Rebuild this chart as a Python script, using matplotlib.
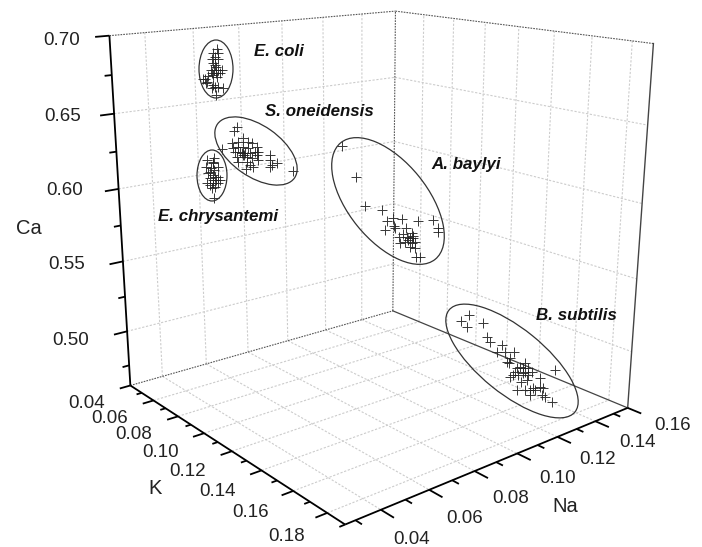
#!/usr/bin/env python3
"""Na / K / Ca ratios per species, 3D scatter with perspective box."""

import numpy as np
import matplotlib
matplotlib.use("Agg")
import matplotlib.pyplot as plt
from matplotlib.patches import Ellipse
from mpl_toolkits.mplot3d import proj3d

plt.rcParams["font.family"] = ["Liberation Sans", "DejaVu Sans"]

NA_LIM = (0.026, 0.158)
K_LIM = (0.04, 0.19)
CA_LIM = (0.46, 0.70)

NA_MAJOR = [0.04, 0.06, 0.08, 0.10, 0.12, 0.14, 0.158]
NA_MINOR = [0.03, 0.05, 0.07, 0.09, 0.11, 0.13, 0.15]
NA_LABELS = ["0.04", "0.06", "0.08", "0.10", "0.12", "0.14", "0.16"]
K_MAJOR = [0.04, 0.06, 0.08, 0.10, 0.12, 0.14, 0.16, 0.18]
K_MINOR = [0.05, 0.07, 0.09, 0.11, 0.13, 0.15, 0.17, 0.19]
K_LABELS = ["0.04", "0.06", "0.08", "0.10", "0.12", "0.14", "0.16", "0.18"]
CA_MAJOR = [0.50, 0.55, 0.60, 0.65, 0.70]
CA_MINOR = [0.475, 0.525, 0.575, 0.625, 0.675]
CA_LABELS = ["0.50", "0.55", "0.60", "0.65", "0.70"]

ECOLI_K = 0.08
ECOLI_NA = [0.0477, 0.0463, 0.0483, 0.0469, 0.0455, 0.0482, 0.0462, 0.0472, 0.0463, 0.0480,
            0.0494, 0.0453, 0.0471, 0.0487, 0.0460, 0.0440, 0.0426, 0.0419, 0.0432, 0.0465,
            0.0451, 0.0478, 0.0498, 0.0468, 0.0458, 0.0468, 0.0450, 0.0473, 0.0429]
ECOLI_CA = [0.6948, 0.6926, 0.6923, 0.6900, 0.6890, 0.6886, 0.6869, 0.6842, 0.6823, 0.6820,
            0.6818, 0.6809, 0.6806, 0.6803, 0.6793, 0.6790, 0.6772, 0.6773, 0.6757, 0.6720,
            0.6712, 0.6717, 0.6703, 0.6667, 0.6731, 0.6853, 0.6826, 0.6780, 0.6747]

ECHRY_K = 0.075
ECHRY_NA = [0.0478, 0.0472, 0.0448, 0.0495, 0.0444, 0.0460, 0.0476, 0.0452, 0.0473, 0.0493,
            0.0459, 0.0483, 0.0444, 0.0472, 0.0492, 0.0464, 0.0478, 0.0458, 0.0472, 0.0472,
            0.0463, 0.0479, 0.0469, 0.0500]
ECHRY_CA = [0.6249, 0.6228, 0.6246, 0.6190, 0.6203, 0.6167, 0.6173, 0.6158, 0.6141, 0.6125,
            0.6123, 0.6105, 0.6094, 0.6087, 0.6081, 0.6056, 0.6063, 0.6080, 0.5987, 0.6218,
            0.6187, 0.6128, 0.6109, 0.6101]

SONEI_K = 0.09
SONEI_NA = [0.0491, 0.0481, 0.0427, 0.0468, 0.0496, 0.0516, 0.0536, 0.0550, 0.0570, 0.0474,
            0.0495, 0.0515, 0.0536, 0.0563, 0.0481, 0.0501, 0.0521, 0.0542, 0.0570, 0.0577,
            0.0487, 0.0514, 0.0528, 0.0548, 0.0576, 0.0493, 0.0527, 0.0541, 0.0554, 0.0522,
            0.0626, 0.0625, 0.0625, 0.0632, 0.0654, 0.0725, 0.0508, 0.0518]
SONEI_CA = [0.6488, 0.6465, 0.6361, 0.6388, 0.6392, 0.6408, 0.6382, 0.6368, 0.6342, 0.6355,
            0.6361, 0.6356, 0.6340, 0.6312, 0.6333, 0.6328, 0.6312, 0.6307, 0.6289, 0.6308,
            0.6299, 0.6303, 0.6289, 0.6273, 0.6255, 0.6266, 0.6257, 0.6232, 0.6218, 0.6209,
            0.6275, 0.6242, 0.6199, 0.6208, 0.6218, 0.6144, 0.6315, 0.6302]

ABAYL_K = 0.12
ABAYL_NA = [0.0741, 0.0800, 0.0842, 0.0917, 0.0971, 0.0940, 0.1011, 0.1091, 0.1166, 0.0933,
            0.0975, 0.0980, 0.1191, 0.1192, 0.1032, 0.1020, 0.1060, 0.1001, 0.1036, 0.1052,
            0.1068, 0.1028, 0.1004, 0.1060, 0.1077, 0.1053, 0.1077, 0.1083, 0.1102, 0.1044,
            0.1065]
ABAYL_CA = [0.6386, 0.6172, 0.5977, 0.5925, 0.5857, 0.5845, 0.5835, 0.5796, 0.5779, 0.5787,
            0.5802, 0.5782, 0.5718, 0.5690, 0.5770, 0.5729, 0.5722, 0.5719, 0.5707, 0.5690,
            0.5685, 0.5676, 0.5672, 0.5653, 0.5659, 0.5633, 0.5613, 0.5553, 0.5546, 0.5682,
            0.5704]

BSUBT_K = 0.15
BSUBT_NA = [0.1274, 0.1249, 0.1293, 0.1343, 0.1321, 0.1304, 0.1317, 0.1404, 0.1396, 0.1377,
            0.1424, 0.1360, 0.1351, 0.1343, 0.1325, 0.1370, 0.1406, 0.1443, 0.1425, 0.1397,
            0.1492, 0.1386, 0.1417, 0.1576, 0.1494, 0.1364, 0.1411, 0.1438, 0.1467, 0.1457,
            0.1514, 0.1440, 0.1506, 0.1526, 0.1570, 0.1104, 0.1062, 0.1092, 0.1172, 0.1195,
            0.1213]
BSUBT_CA = [0.4987, 0.4950, 0.4930, 0.4907, 0.4869, 0.4853, 0.4835, 0.4794, 0.4761, 0.4782,
            0.4748, 0.4778, 0.4758, 0.4738, 0.4734, 0.4724, 0.4732, 0.4714, 0.4698, 0.4724,
            0.4640, 0.4667, 0.4664, 0.4662, 0.4577, 0.4617, 0.4594, 0.4579, 0.4565, 0.4583,
            0.4554, 0.4541, 0.4508, 0.4485, 0.4424, 0.5270, 0.5247, 0.5191, 0.5184, 0.5081,
            0.5033]

# box corners and ticks as seen in the picture, used to calibrate the camera
# (Na, K, Ca, px, py)
ANCHORS = [
    (NA_LIM[0], 0.04, 0.70, 111, 35), (NA_LIM[0], 0.04, CA_LIM[0], 130, 385),
    (NA_LIM[0], 0.19, CA_LIM[0], 347, 523), (NA_LIM[1], 0.19, CA_LIM[0], 628, 405),
    (NA_LIM[1], 0.04, CA_LIM[0], 393, 311), (NA_LIM[1], 0.04, 0.70, 396, 12),
    (NA_LIM[1], 0.19, 0.70, 653, 43),
    (NA_LIM[0], 0.04, 0.65, 113, 114), (NA_LIM[0], 0.04, 0.60, 117, 189),
    (NA_LIM[0], 0.06, CA_LIM[0], 153, 401), (NA_LIM[0], 0.10, CA_LIM[0], 205, 433),
    (NA_LIM[0], 0.14, CA_LIM[0], 263, 468), (NA_LIM[0], 0.18, CA_LIM[0], 330, 512),
    (0.14, 0.19, CA_LIM[0], 597, 422), (0.10, 0.19, CA_LIM[0], 515, 455),
    (0.06, 0.19, CA_LIM[0], 425, 492), (0.04, 0.19, CA_LIM[0], 380, 513),
]


def fit_camera():
    rows = []
    for na, k, ca, u, v in np.array(ANCHORS, float):
        rows.append([na, k, ca, 1, 0, 0, 0, 0, -u * na, -u * k, -u * ca, -u])
        rows.append([0, 0, 0, 0, na, k, ca, 1, -v * na, -v * k, -v * ca, -v])
    rows = np.array(rows)
    scale = np.abs(rows).max(axis=0)
    _, _, vt = np.linalg.svd(rows / scale)
    return (vt[-1] / scale).reshape(3, 4)


fig = plt.figure(figsize=(7.02, 5.47), dpi=100)
ax = fig.add_axes([0, (1 - 702 / 547) / 2, 1, 702 / 547], projection="3d", computed_zorder=False)
ax.set_axis_off()
ax.apply_aspect()
flip = np.array([[1, 0, 0], [0, -1, 547], [0, 0, 1.0]])
Q = ax.transData.inverted().get_matrix() @ flip @ fit_camera()
M = np.vstack([Q[0], Q[1], [0, 0, 1, 0], Q[2]])
ax.get_proj = lambda: M

GRID = dict(color="#cccccc", lw=0.8, ls=(0, (2, 1.5)), zorder=1)
EDGE = dict(color="#555555", lw=0.8, ls=(0, (1.5, 1)), zorder=2)
AXIS = dict(color="black", lw=1.3, zorder=3, solid_capstyle="butt")
POINT = dict(ls="none", marker="+", color="#222222", ms=7.5, mew=0.7, alpha=0.9, zorder=4)

na0, na1 = NA_LIM
k0, k1 = K_LIM
ca0, ca1 = CA_LIM

# walls and floor
for na in NA_MAJOR[:-1]:
    ax.plot([na, na], [k0, k0], [ca0, ca1], **GRID)
    ax.plot([na, na], [k0, k1], [ca0, ca0], **GRID)
for k in K_MAJOR[1:]:
    ax.plot([na1, na1], [k, k], [ca0, ca1], **GRID)
    ax.plot([na0, na1], [k, k], [ca0, ca0], **GRID)
for ca in CA_MAJOR[:-1]:
    ax.plot([na0, na1], [k0, k0], [ca, ca], **GRID)
    ax.plot([na1, na1], [k0, k1], [ca, ca], **GRID)

ax.plot([na0, na1], [k0, k0], [ca1, ca1], **EDGE)
ax.plot([na1, na1], [k0, k1], [ca1, ca1], **EDGE)
ax.plot([na1, na1], [k0, k0], [ca0, ca1], **EDGE)
ax.plot([na0, na1], [k0, k0], [ca0, ca0], **EDGE)
ax.plot([na1, na1], [k0, k1], [ca0, ca0], color="#444444", lw=0.9, zorder=2)
ax.plot([na1, na1], [k1, k1], [ca0, ca1], color="#444444", lw=1.0, zorder=2)

# axes and ticks
ax.plot([na0, na0], [k0, k0], [ca0, ca1], **AXIS)
ax.plot([na0, na0], [k0, k1], [ca0, ca0], **AXIS)
ax.plot([na0, na1], [k1, k1], [ca0, ca0], **AXIS)

for ticks, size in ((K_MAJOR, 0.0045), (K_MINOR, 0.0022)):
    for k in ticks:
        ax.plot([na0, na0 - size], [k, k], [ca0, ca0], **AXIS)
for ticks, size in ((NA_MAJOR, 0.007), (NA_MINOR, 0.0035)):
    for na in ticks:
        ax.plot([na, na], [k1, k1 + size], [ca0, ca0], **AXIS)
for ticks, size in ((CA_MAJOR, 0.0055), (CA_MINOR, 0.0028)):
    for ca in ticks:
        ax.plot([na0, na0 - size], [k0, k0], [ca, ca], **AXIS)


def tick_label(text, na, k, ca, dx, dy):
    x2, y2, _ = proj3d.proj_transform(na, k, ca, M)
    ax.annotate(text, xy=(x2, y2), xytext=(dx, -dy), textcoords="offset pixels",
                ha="center", va="center", fontsize=13.5, color="#222222")


na_dx = [31, 35, 36, 40, 40, 42, 45]
na_dy = [30, 29, 27, 25, 23, 21, 18]
for lab, na, dx, dy in zip(NA_LABELS, NA_MAJOR, na_dx, na_dy):
    tick_label(lab, na, k1, ca0, dx, dy)
k_dx = [-44, -44, -44, -44, -44, -44, -43, -41]
k_dy = [18, 18, 18, 19, 20, 21, 22, 24]
for lab, k, dx, dy in zip(K_LABELS, K_MAJOR, k_dx, k_dy):
    tick_label(lab, na0, k, ca0, dx, dy)
ca_dx = [-56, -56, -54, -51, -48]
ca_dy = [9, 3, 2, 3, 5]
for lab, ca, dx, dy in zip(CA_LABELS, CA_MAJOR, ca_dx, ca_dy):
    tick_label(lab, na0, k0, ca, dx, dy)

# species
for na, k, ca in ((ECOLI_NA, ECOLI_K, ECOLI_CA), (ECHRY_NA, ECHRY_K, ECHRY_CA),
                  (SONEI_NA, SONEI_K, SONEI_CA), (ABAYL_NA, ABAYL_K, ABAYL_CA),
                  (BSUBT_NA, BSUBT_K, BSUBT_CA)):
    ax.plot(na, [k] * len(na), ca, **POINT)

# ellipses and labels sit on the flat picture, in pixels
over = fig.add_axes([0, 0, 1, 1])
over.set_xlim(0, 702)
over.set_ylim(547, 0)
over.axis("off")
for cx, cy, w, h, ang in [(216, 69, 34, 58, 0), (212, 175.5, 30, 51, 0), (256, 151, 94, 51, 35),
                          (388, 201, 150, 79, 51), (512, 361, 162, 65, 39)]:
    over.add_patch(Ellipse((cx, cy), w, h, angle=ang, fill=False, ec="#333333", lw=0.9))
for txt, x, y in [("E. coli", 254, 52), ("S. oneidensis", 265, 112), ("E. chrysantemi", 158, 217),
                  ("A. baylyi", 431, 164), ("B. subtilis", 536, 315)]:
    over.text(x, y, txt, fontsize=12.2, fontweight="bold", fontstyle="italic", va="center", color="#111111")
for txt, x, y in [("Ca", 29, 228), ("K", 155, 488), ("Na", 565, 507)]:
    over.text(x, y, txt, fontsize=14.5, ha="center", va="center", color="#222222")

fig.savefig("out.png", dpi=100)
